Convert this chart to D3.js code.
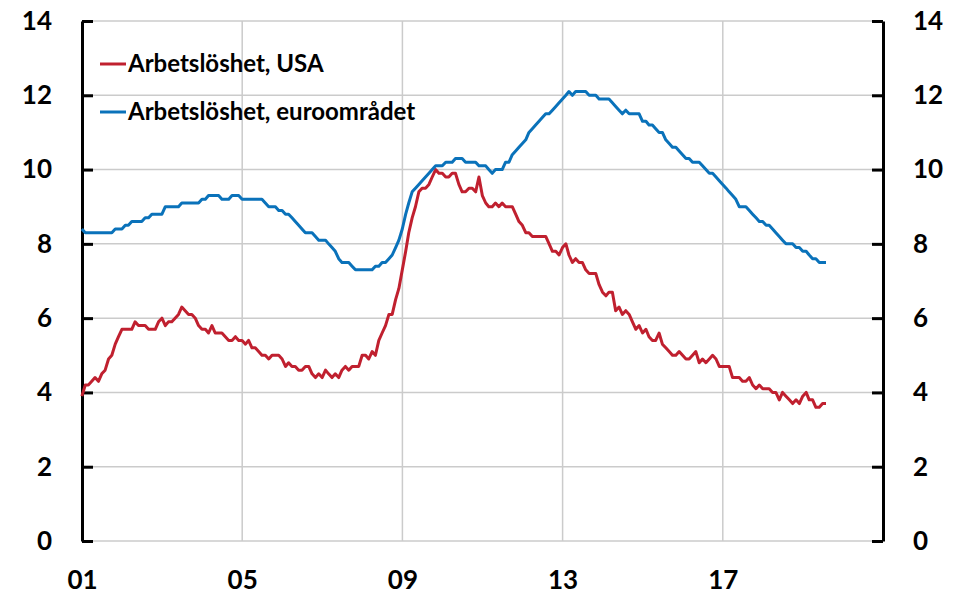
<!DOCTYPE html>
<html>
<head>
<meta charset="utf-8">
<script src="https://cdn.jsdelivr.net/npm/d3@7/dist/d3.min.js"></script>
<style>
  html,body{margin:0;padding:0;background:#fff;}
  svg{display:block;font-family:Lato,"Open Sans",sans-serif;}
</style>
</head>
<body>
<svg id="chart" width="958" height="597"></svg>
<script>
// monthly observations, first one is Dec 2000 (end-of-month dates)
var startYear=2000, startMonth=11;

var usa=[3.9,
  4.2,4.2,4.3,4.4,4.3,4.5,4.6,4.9,5.0,5.3,5.5,5.7,
  5.7,5.7,5.7,5.9,5.8,5.8,5.8,5.7,5.7,5.7,5.9,6.0,
  5.8,5.9,5.9,6.0,6.1,6.3,6.2,6.1,6.1,6.0,5.8,5.7,
  5.7,5.6,5.8,5.6,5.6,5.6,5.5,5.4,5.4,5.5,5.4,5.4,
  5.3,5.4,5.2,5.2,5.1,5.0,5.0,4.9,5.0,5.0,5.0,4.9,
  4.7,4.8,4.7,4.7,4.6,4.6,4.7,4.7,4.5,4.4,4.5,4.4,
  4.6,4.5,4.4,4.5,4.4,4.6,4.7,4.6,4.7,4.7,4.7,5.0,
  5.0,4.9,5.1,5.0,5.4,5.6,5.8,6.1,6.1,6.5,6.8,7.3,
  7.8,8.3,8.7,9.0,9.4,9.5,9.5,9.6,9.8,10.0,9.9,9.9,
  9.8,9.8,9.9,9.9,9.6,9.4,9.4,9.5,9.5,9.4,9.8,9.3,
  9.1,9.0,9.0,9.1,9.0,9.1,9.0,9.0,9.0,8.8,8.6,8.5,
  8.3,8.3,8.2,8.2,8.2,8.2,8.2,8.0,7.8,7.8,7.7,7.9,
  8.0,7.7,7.5,7.6,7.5,7.5,7.3,7.2,7.2,7.2,6.9,6.7,
  6.6,6.7,6.7,6.2,6.3,6.1,6.2,6.1,5.9,5.7,5.8,5.6,
  5.7,5.5,5.4,5.4,5.6,5.3,5.2,5.1,5.0,5.0,5.1,5.0,
  4.9,4.9,5.0,5.1,4.8,4.9,4.8,4.9,5.0,4.9,4.7,4.7,
  4.7,4.7,4.4,4.4,4.4,4.3,4.3,4.4,4.2,4.1,4.2,4.1,
  4.1,4.1,4.0,4.0,3.8,4.0,3.9,3.8,3.7,3.8,3.7,3.9,
  4.0,3.8,3.8,3.6,3.6,3.7,3.7];

var euro=[8.4,
  8.3,8.3,8.3,8.3,8.3,8.3,8.3,8.3,8.3,8.4,8.4,8.4,
  8.5,8.5,8.6,8.6,8.6,8.6,8.7,8.7,8.8,8.8,8.8,8.8,
  9.0,9.0,9.0,9.0,9.0,9.1,9.1,9.1,9.1,9.1,9.1,9.2,
  9.2,9.3,9.3,9.3,9.3,9.2,9.2,9.2,9.3,9.3,9.3,9.2,
  9.2,9.2,9.2,9.2,9.2,9.2,9.1,9.0,9.0,9.0,8.9,8.9,
  8.8,8.8,8.7,8.6,8.5,8.4,8.3,8.3,8.3,8.2,8.1,8.1,
  8.1,8.0,7.9,7.8,7.6,7.5,7.5,7.5,7.4,7.3,7.3,7.3,
  7.3,7.3,7.3,7.4,7.4,7.5,7.5,7.6,7.7,7.9,8.1,8.4,
  8.8,9.1,9.4,9.5,9.6,9.7,9.8,9.9,10.0,10.1,10.1,10.1,
  10.2,10.2,10.2,10.3,10.3,10.3,10.2,10.2,10.2,10.2,10.1,10.1,
  10.1,10.0,9.9,10.0,10.0,10.0,10.2,10.2,10.4,10.5,10.6,10.7,
  10.8,11.0,11.1,11.2,11.3,11.4,11.5,11.5,11.6,11.7,11.8,11.9,
  12.0,12.1,12.0,12.1,12.1,12.1,12.1,12.0,12.0,12.0,11.9,11.9,
  11.9,11.9,11.8,11.7,11.6,11.5,11.6,11.5,11.5,11.5,11.5,11.3,
  11.3,11.2,11.2,11.1,11.0,11.0,10.8,10.7,10.6,10.6,10.5,10.4,
  10.3,10.3,10.2,10.2,10.2,10.1,10.0,9.9,9.9,9.8,9.7,9.6,
  9.5,9.4,9.3,9.2,9.0,9.0,9.0,8.9,8.8,8.7,8.6,8.6,
  8.5,8.5,8.4,8.3,8.2,8.1,8.0,8.0,8.0,7.9,7.9,7.8,
  7.8,7.7,7.6,7.6,7.5,7.5,7.5];

var seriesNames=['Arbetslöshet, USA','Arbetslöshet, euroområdet'];
var seriesColors=['#c0202f','#0a72ba'];
var yTicks=[0,2,4,6,8,10,12,14];
var xTickYears=[2001,2005,2009,2013,2017];

function monthEnd(i){return new Date(startYear,startMonth+i+1,0);}

var svg=d3.select('#chart');
var ml=82, mr=75, mt=21, mb=56;
var W=958, H=597;

var x=d3.scaleTime().domain([new Date(2001,0,1),new Date(2021,0,1)]).range([ml,W-mr]);
var y=d3.scaleLinear().domain([0,14]).range([H-mb,mt]);

// grid
svg.append('g').selectAll('line').data(yTicks).enter().append('line')
  .attr('x1',ml).attr('x2',W-mr).attr('y1',function(d){return y(d)}).attr('y2',function(d){return y(d)})
  .attr('stroke','#cbcbcb').attr('stroke-width',1.5);
svg.append('g').selectAll('line').data(xTickYears.slice(1)).enter().append('line')
  .attr('x1',function(d){return x(new Date(d,0,1))}).attr('x2',function(d){return x(new Date(d,0,1))})
  .attr('y1',mt).attr('y2',H-mb)
  .attr('stroke','#cbcbcb').attr('stroke-width',1.5);

// axes
var axL=svg.append('g').attr('transform','translate('+ml+',0)')
  .call(d3.axisLeft(y).tickValues(yTicks).tickSizeInner(-11).tickSizeOuter(0).tickPadding(30));
var axR=svg.append('g').attr('transform','translate('+(W-mr)+',0)')
  .call(d3.axisRight(y).tickValues(yTicks).tickSizeInner(-11).tickSizeOuter(0).tickPadding(30));
[axL,axR].forEach(function(a){
  a.select('.domain').attr('stroke','#000').attr('stroke-width',3);
  a.selectAll('.tick line').attr('stroke','#000').attr('stroke-width',3);
  a.selectAll('.tick text').attr('fill','#000').attr('font-size','26px').attr('font-weight','700')
    .attr('font-family','Lato,sans-serif');
});
axR.selectAll('.tick text').attr('x',30);

var axB=svg.append('g').attr('transform','translate(0,'+(H-mb)+')')
  .call(d3.axisBottom(x).tickValues(xTickYears.map(function(d){return new Date(d,0,1)}))
    .tickFormat(d3.timeFormat('%y')).tickSize(0).tickPadding(30));
axB.select('.domain').remove();
axB.selectAll('.tick text').attr('fill','#000').attr('font-size','26px').attr('font-weight','700')
  .attr('font-family','Lato,sans-serif');

// lines
var line=d3.line().x(function(d,i){return x(monthEnd(i))}).y(function(d){return y(d)});
[usa,euro].forEach(function(s,k){
  svg.append('path').datum(s).attr('d',line).attr('fill','none')
    .attr('stroke',seriesColors[k]).attr('stroke-width',3).attr('stroke-linejoin','round');
});

// legend
seriesNames.forEach(function(n,k){
  var ly=64+k*48;
  svg.append('line').attr('x1',100).attr('x2',126).attr('y1',ly).attr('y2',ly)
    .attr('stroke',seriesColors[k]).attr('stroke-width',3);
  svg.append('text').attr('x',128).attr('y',ly+8).attr('fill','#000')
    .attr('font-size','24px').attr('font-weight','700').attr('font-family','Lato,sans-serif')
    .text(n);
});
</script>
</body>
</html>
